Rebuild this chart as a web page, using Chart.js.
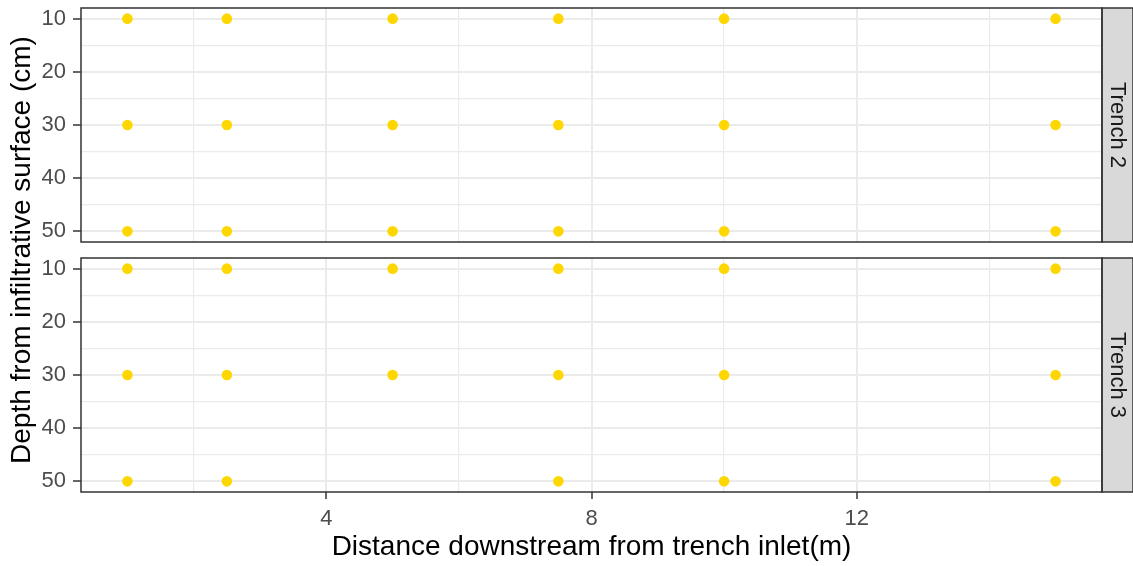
<!DOCTYPE html>
<html>
<head>
<meta charset="utf-8">
<script src="https://cdn.jsdelivr.net/npm/chart.js@4/dist/chart.umd.min.js"></script>
<style>
body { margin: 0; background: #fff; }
#wrap { position: relative; width: 1133px; height: 566px; }
#wrap canvas { position: absolute; left: 0; top: 0; }
</style>
</head>
<body>
<div id="wrap">
  <canvas id="trench2" width="1133" height="566"></canvas>
  <canvas id="trench3" width="1133" height="566"></canvas>
</div>
<script>
// sampling points, one entry per probe (distance m, depth cm)
var trench2Distance = [1, 1, 1, 2.5, 2.5, 2.5, 5, 5, 5, 7.5, 7.5, 7.5, 10, 10, 10, 15, 15, 15];
var trench2Depth    = [10, 30, 50, 10, 30, 50, 10, 30, 50, 10, 30, 50, 10, 30, 50, 10, 30, 50];
var trench3Distance = [1, 1, 1, 2.5, 2.5, 2.5, 5, 5, 7.5, 7.5, 7.5, 10, 10, 10, 15, 15, 15];
var trench3Depth    = [10, 30, 50, 10, 30, 50, 10, 30, 10, 30, 50, 10, 30, 50, 10, 30, 50];

var panelNames = ['Trench 2', 'Trench 3'];
var xTickLabels = [4, 8, 12];
var xMinorTicks = [2, 6, 10, 14];
var yTickLabels = [10, 20, 30, 40, 50];
var yMinorTicks = [15, 25, 35, 45];
var xTitle = 'Distance downstream from trench inlet(m)';
var yTitle = 'Depth from infiltrative surface (cm)';

var chartFont = '"Liberation Sans", Arial, sans-serif';
var STRIP_W = 31;
var AXIS_W = 81;

Chart.defaults.font.family = chartFont;

function toPoints(xs, ys) {
    var pts = [];
    for (var i = 0; i < xs.length; i++) pts.push({x: xs[i], y: ys[i]});
    return pts;
}

function buildTicks(major, minor) {
    return major.concat(minor).sort(function(a, b){ return a - b; })
        .map(function(v){ return {value: v}; });
}

// frame, grey facet strip and (optionally) the shared y title
var panelDecor = {
    id: 'panelDecor',
    afterDraw: function(chart, args, opts) {
        var ctx = chart.ctx;
        var a = chart.chartArea;
        var h = a.bottom - a.top;
        ctx.save();
        ctx.fillStyle = '#D9D9D9';
        ctx.fillRect(a.right, a.top, STRIP_W, h);
        ctx.strokeStyle = '#333333';
        ctx.lineWidth = 1.5;
        ctx.strokeRect(a.right, a.top, STRIP_W, h);
        ctx.strokeRect(a.left, a.top, a.right - a.left, h);

        ctx.translate(a.right + STRIP_W / 2, a.top + h / 2);
        ctx.rotate(Math.PI / 2);
        ctx.fillStyle = '#1A1A1A';
        ctx.font = '22px ' + chartFont;
        ctx.textAlign = 'center';
        ctx.textBaseline = 'middle';
        ctx.fillText(opts.label, 0, 0);
        ctx.restore();

        if (opts.yTitle) {
            ctx.save();
            ctx.translate(22, 250);
            ctx.rotate(-Math.PI / 2);
            ctx.fillStyle = '#000000';
            ctx.font = '28px ' + chartFont;
            ctx.textAlign = 'center';
            ctx.textBaseline = 'middle';
            ctx.fillText(opts.yTitle, 0, 0);
            ctx.restore();
        }
    }
};

function makePanel(id, label, xs, ys, isBottom) {
    var xScale = {
        type: 'linear',
        min: 0.3,
        max: 15.7,
        afterBuildTicks: function(s){ s.ticks = buildTicks(xTickLabels, xMinorTicks); },
        afterFit: function(s){
            s.height = isBottom ? 74 : 0;
            s.paddingLeft = 0;
            s.paddingRight = 0;
        },
        border: {display: false},
        grid: {
            color: '#EBEBEB',
            lineWidth: function(c){ return xTickLabels.indexOf(c.tick.value) >= 0 ? 2 : 1.2; },
            tickColor: function(c){ return xTickLabels.indexOf(c.tick.value) >= 0 ? '#333333' : 'rgba(0,0,0,0)'; },
            tickWidth: 1.5,
            tickLength: 7,
            drawTicks: isBottom
        },
        ticks: {
            display: isBottom,
            autoSkip: false,
            maxRotation: 0,
            padding: 7,
            color: '#4D4D4D',
            font: {size: 22},
            callback: function(v){ return xTickLabels.indexOf(v) >= 0 ? String(v) : ''; }
        },
        title: {
            display: isBottom,
            text: xTitle,
            color: '#000000',
            font: {size: 28},
            padding: {top: 0, bottom: 2}
        }
    };

    var yScale = {
        type: 'linear',
        reverse: true,
        min: 8,
        max: 52,
        afterBuildTicks: function(s){ s.ticks = buildTicks(yTickLabels, yMinorTicks); },
        afterFit: function(s){
            // keep the panel edges fixed; labels may overhang the plot box
            s.width = AXIS_W;
            s.paddingTop = 0;
            s.paddingBottom = 0;
        },
        border: {display: false},
        grid: {
            color: '#EBEBEB',
            lineWidth: function(c){ return yTickLabels.indexOf(c.tick.value) >= 0 ? 2 : 1.2; },
            tickColor: function(c){ return yTickLabels.indexOf(c.tick.value) >= 0 ? '#333333' : 'rgba(0,0,0,0)'; },
            tickWidth: 1.5,
            tickLength: 8
        },
        ticks: {
            autoSkip: false,
            padding: 7,
            color: '#4D4D4D',
            font: {size: 22},
            callback: function(v){ return yTickLabels.indexOf(v) >= 0 ? String(v) : ''; }
        }
    };

    return new Chart(document.getElementById(id), {
        type: 'scatter',
        data: {
            datasets: [{
                label: label,
                data: toPoints(xs, ys),
                pointRadius: 5.3,
                pointHoverRadius: 5.3,
                pointBorderWidth: 0,
                pointBackgroundColor: '#FFD700',
                borderColor: '#FFD700'
            }]
        },
        options: {
            responsive: false,
            animation: false,
            devicePixelRatio: 1,
            layout: {
                padding: isBottom
                    ? {top: 258, bottom: 0, left: 0, right: STRIP_W}
                    : {top: 8, bottom: 324, left: 0, right: STRIP_W}
            },
            scales: {x: xScale, y: yScale},
            plugins: {
                legend: {display: false},
                tooltip: {enabled: false},
                panelDecor: {label: label, yTitle: isBottom ? yTitle : null}
            }
        },
        plugins: [panelDecor]
    });
}

makePanel('trench2', panelNames[0], trench2Distance, trench2Depth, false);
makePanel('trench3', panelNames[1], trench3Distance, trench3Depth, true);
</script>
</body>
</html>
